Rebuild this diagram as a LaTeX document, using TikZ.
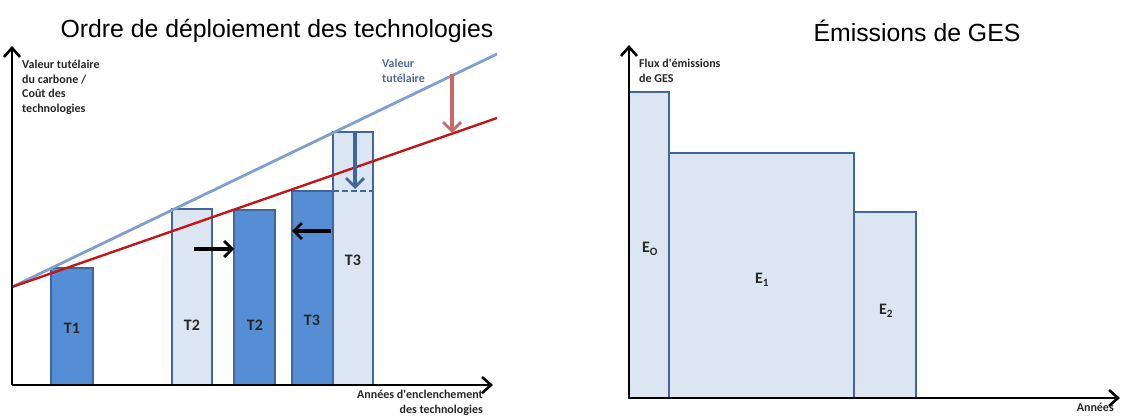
\documentclass[tikz,border=0pt]{standalone}
\usepackage{fontspec}
\setmainfont{Liberation Sans}
\newfontfamily\lbl{Carlito}
\usetikzlibrary{arrows.meta}
\definecolor{lightfill}{HTML}{DCE6F2}
\definecolor{darkfill}{HTML}{558ED5}
\definecolor{barline}{HTML}{41679A}
\definecolor{blueline}{HTML}{7F9FCF}
\definecolor{redline}{HTML}{C01818}
\definecolor{redarrow}{HTML}{C86A6A}
\definecolor{bluetxt}{HTML}{4F6A95}
\definecolor{txtgray}{HTML}{262626}
\tikzset{
  axis/.style={line width=2.8pt, -{Straight Barb[length=9pt,width=16pt,line width=2.6pt]}},
  lightbar/.style={draw=barline, fill=lightfill, line width=2pt, anchor=south west, outer sep=0pt, inner sep=0pt},
  darkbar/.style={draw=barline, fill=darkfill, line width=2pt, anchor=south west, outer sep=0pt, inner sep=0pt},
  barlabel/.style={font=\lbl\bfseries\fontsize{16}{18}\selectfont, text=txtgray},
  axlabel/.style={font=\lbl\bfseries\fontsize{12}{14.5}\selectfont, text=txtgray, align=left, inner sep=0pt},
  title/.style={font=\fontsize{24.8}{30}\selectfont, text=black},
  movearrow/.style={line width=3.4pt, -{Straight Barb[length=8pt,width=16pt,line width=2.8pt]}},
  droparrow/.style={line width=3.2pt, -{Straight Barb[length=9pt,width=18pt,line width=2.8pt]}},
}
\begin{document}
\begin{tikzpicture}[x=1pt, y=-1pt]
\useasboundingbox (0,0) rectangle (1123,417);
% titles
\node[title] (t-left) at (277,31) {Ordre de déploiement des technologies};
\node[title] (t-right) at (917,31) {Émissions de GES};

% ---------- left chart ----------
% bars
\node[darkbar, minimum width=42pt, minimum height=117pt] (b1) at (51,385) {};
\node[lightbar, minimum width=40pt, minimum height=176pt] (b2l) at (172,385) {};
\node[darkbar, minimum width=41pt, minimum height=175pt] (b2d) at (234,385) {};
\node[darkbar, minimum width=41pt, minimum height=194pt] (b3d) at (292,385) {};
\node[lightbar, minimum width=40pt, minimum height=253pt] (b3l) at (333,385) {};
\node[barlabel] (l1) at (72,328) {T1};
\node[barlabel] (l2l) at (192,325) {T2};
\node[barlabel] (l2d) at (255,325) {T2};
\node[barlabel] (l3d) at (312,320) {T3};
\node[barlabel] (l3l) at (353,260) {T3};
% dashed line in T3 light bar
\draw[barline, line width=2pt, dash pattern=on 6pt off 3pt] (b3l.west |- b3d.north) -- (b3l.east |- b3d.north);
% lines
\coordinate (o) at (12,287);
\coordinate (bend) at (497,54);
\coordinate (rend) at (497,118);
\draw[blueline, line width=2.8pt] (o) -- (bend);
\draw[redline, line width=2.4pt] (o) -- (rend);
% axes
\coordinate (lo) at (12,385);
\coordinate (ly) at (12,46);
\coordinate (lx) at (493,385);
\draw[axis] (lo) -- (ly);
\draw[axis] (lo) -- (lx);
% axis labels
\node[axlabel, anchor=north west] (ylab) at (22,60) {Valeur tutélaire\\du carbone /\\Coût des\\technologies};
\node[axlabel, anchor=north east, align=right] (xlab) at (483,390) {Années d'enclenchement\\des technologies};
\node[axlabel, anchor=north west, text=bluetxt] (vt) at (382,59) {Valeur\\tutélaire};
% arrows
\coordinate (ra1) at (452,74);
\coordinate (ra2) at (452,133);
\draw[redarrow, droparrow] (ra1) -- (ra2);
\coordinate (da1) at (355,132);
\coordinate (da2) at (355,189);
\draw[barline, droparrow] (da1) -- (da2);
\coordinate (ar1) at (194,249);
\draw[movearrow] (ar1) -- (b2d.west |- ar1);
\coordinate (al1) at (331,231);
\draw[movearrow] (al1) -- (b3d.west |- al1) ;

% ---------- right chart ----------
\node[lightbar, minimum width=40pt, minimum height=306pt] (e0) at (629,398) {};
\node[lightbar, minimum width=185pt, minimum height=245pt] (e1) at (669,398) {};
\node[lightbar, minimum width=62pt, minimum height=186pt] (e2) at (854,398) {};
\node[barlabel] (le0) at (650,249) {E\textsubscript{O}};
\node[barlabel] (le1) at (762,280) {E\textsubscript{1}};
\node[barlabel] (le2) at (886,311) {E\textsubscript{2}};
\coordinate (ro) at (629,398);
\coordinate (ry) at (629,45);
\coordinate (rx) at (1120,398);
\draw[axis] (ro) -- (ry);
\draw[axis] (ro) -- (rx);
\node[axlabel, anchor=north west] (fl) at (639,59) {Flux d'émissions\\de GES};
\node[axlabel, anchor=north east] (an) at (1114,403) {Années};
\end{tikzpicture}
\end{document}
